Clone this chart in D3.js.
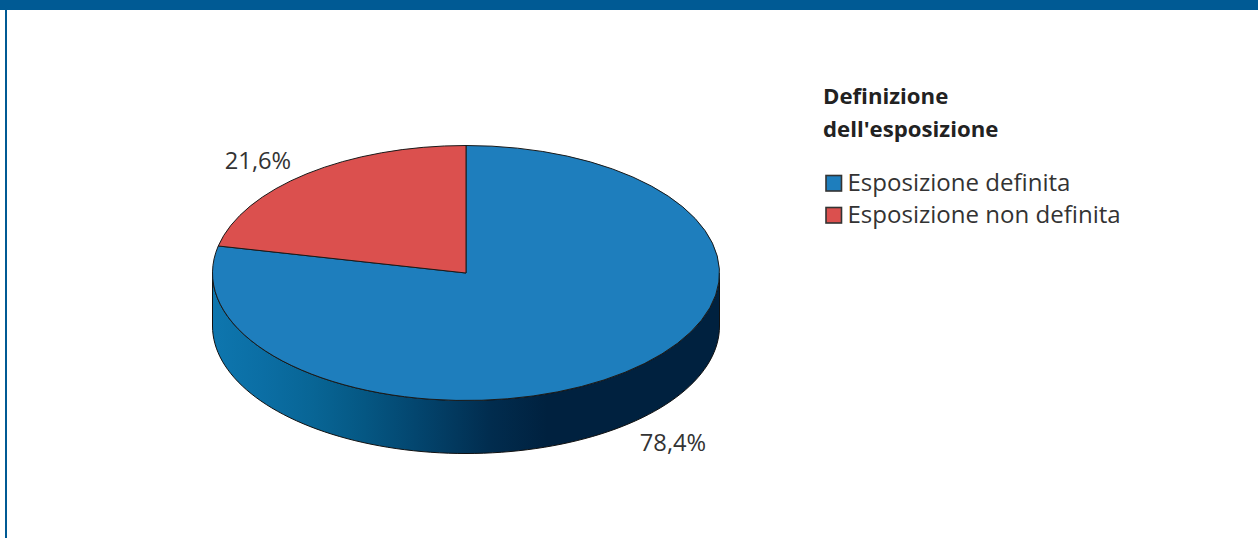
<!DOCTYPE html>
<html><head><meta charset="utf-8">
<script src="https://cdn.jsdelivr.net/npm/d3@7/dist/d3.min.js"></script>
<style>html,body{margin:0;padding:0;background:#fff;overflow:hidden}svg{display:block}text{font-family:"Open Sans",sans-serif}</style>
</head><body><svg id="c" width="1258" height="538"></svg>
<script>
const categories = ["Esposizione definita", "Esposizione non definita"];
const values = [78.4, 21.6];
const valueLabels = ["78,4%", "21,6%"];
const colors = ["#1e7ebd", "#db504e"];
const legendTitle = ["Definizione", "dell'esposizione"];

const svg = d3.select("#c");
const W = 1258, H = 538;
const frame = "#005a94";
svg.append("rect").attr("width", W).attr("height", 10).attr("fill", frame);
svg.append("rect").attr("x", 5).attr("y", 0).attr("width", 2).attr("height", H).attr("fill", frame);

const cx = 466, cy = 273, rx = 253.5, ry = 127.5, depth = 53;
const pie = d3.pie().sort(null).value(d => d);
const arcs = pie(values);
const defs = svg.append("defs");
const grad = defs.append("linearGradient").attr("id", "side").attr("gradientUnits", "userSpaceOnUse")
  .attr("x1", cx - rx).attr("x2", cx + rx).attr("y1", 0).attr("y2", 0);
[[0, "#0e76ae"], [0.1, "#0b6ea4"], [0.2, "#086595"], [0.3, "#055783"], [0.4, "#03466f"], [0.55, "#012c4e"], [0.66, "#00213f"], [1, "#00213f"]]
  .forEach(([o, c]) => grad.append("stop").attr("offset", o).attr("stop-color", c));

// side wall: the front half of the ellipse swept down by the depth
const frontAngles = d3.range(90, 270.01, 2).map(d => d * Math.PI / 180);
const xAt = a => cx + rx * Math.sin(a), yAt = a => cy - ry * Math.cos(a);
const wall = d3.area().x(xAt).y0(yAt).y1(a => yAt(a) + depth);
svg.append("path").attr("d", wall(frontAngles)).attr("fill", "url(#side)")
  .attr("stroke", "#111").attr("stroke-width", 1);

// top face
const arc = d3.arc().innerRadius(0).outerRadius(rx);
const face = svg.append("g").attr("transform", `translate(${cx},${cy}) scale(1,${ry / rx})`);
face.selectAll("path").data(arcs).join("path").attr("d", arc)
  .attr("fill", (d, i) => colors[i]).attr("stroke", "#1a1a1a").attr("stroke-width", 1)
  .attr("vector-effect", "non-scaling-stroke");

// value labels
svg.selectAll("text.v").data(valueLabels).join("text").attr("class", "v")
  .attr("x", (d, i) => [673, 258][i]).attr("y", (d, i) => [451, 169][i])
  .attr("text-anchor", "middle").attr("font-size", 23.7).attr("fill", "#333").text(d => d);

// legend
svg.selectAll("text.t").data(legendTitle).join("text").attr("class", "t")
  .attr("x", 823).attr("y", (d, i) => 104 + i * 33)
  .attr("font-size", 22.2).attr("font-weight", 700).attr("fill", "#222").text(d => d);
const leg = svg.selectAll("g.l").data(categories).join("g").attr("class", "l")
  .attr("transform", (d, i) => `translate(826,${175 + i * 32})`);
leg.append("rect").attr("x", 0).attr("y", .5).attr("width", 15.5).attr("height", 15.5)
  .attr("fill", (d, i) => colors[i]).attr("stroke", "#333").attr("stroke-width", 1.6);
leg.append("text").attr("x", 21.5).attr("y", 16).attr("font-size", 24.05).attr("fill", "#333").text(d => d);
</script></body></html>
